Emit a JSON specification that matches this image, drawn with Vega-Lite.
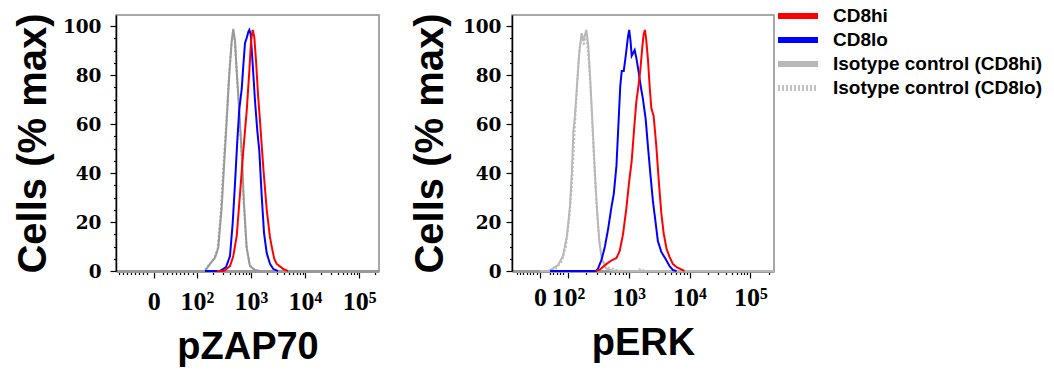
{
"$schema": "https://vega.github.io/schema/vega-lite/v6.json",
"background": "white",
"padding": {"left": 12, "top": 5, "right": 0, "bottom": 0},
"datasets": {
"zap": [
{"series":"Isotype control (CD8lo)","x":1.2,"y":0},{"series":"Isotype control (CD8lo)","x":2.13,"y":0},{"series":"Isotype control (CD8lo)","x":2.22,"y":2.5},{"series":"Isotype control (CD8lo)","x":2.32,"y":5},{"series":"Isotype control (CD8lo)","x":2.38,"y":9},{"series":"Isotype control (CD8lo)","x":2.44,"y":24},{"series":"Isotype control (CD8lo)","x":2.49,"y":43},{"series":"Isotype control (CD8lo)","x":2.54,"y":60},{"series":"Isotype control (CD8lo)","x":2.59,"y":79},{"series":"Isotype control (CD8lo)","x":2.635,"y":92},{"series":"Isotype control (CD8lo)","x":2.665,"y":97.5},{"series":"Isotype control (CD8lo)","x":2.7,"y":94},{"series":"Isotype control (CD8lo)","x":2.73,"y":83},{"series":"Isotype control (CD8lo)","x":2.78,"y":66},{"series":"Isotype control (CD8lo)","x":2.825,"y":48},{"series":"Isotype control (CD8lo)","x":2.865,"y":28},{"series":"Isotype control (CD8lo)","x":2.915,"y":10},{"series":"Isotype control (CD8lo)","x":2.975,"y":2.5},{"series":"Isotype control (CD8lo)","x":3.06,"y":0.5},{"series":"Isotype control (CD8lo)","x":3.16,"y":0},{"series":"Isotype control (CD8lo)","x":5.37,"y":0},
{"series":"Isotype control (CD8hi)","x":1.2,"y":0},{"series":"Isotype control (CD8hi)","x":2.148,"y":0},{"series":"Isotype control (CD8hi)","x":2.241,"y":2.9},{"series":"Isotype control (CD8hi)","x":2.333,"y":5.4},{"series":"Isotype control (CD8hi)","x":2.394,"y":9.5},{"series":"Isotype control (CD8hi)","x":2.457,"y":25.8},{"series":"Isotype control (CD8hi)","x":2.506,"y":44.9},{"series":"Isotype control (CD8hi)","x":2.55,"y":61.2},{"series":"Isotype control (CD8hi)","x":2.598,"y":80.4},{"series":"Isotype control (CD8hi)","x":2.643,"y":93.9},{"series":"Isotype control (CD8hi)","x":2.672,"y":98.8},{"series":"Isotype control (CD8hi)","x":2.704,"y":93.9},{"series":"Isotype control (CD8hi)","x":2.735,"y":81.6},{"series":"Isotype control (CD8hi)","x":2.783,"y":65.3},{"series":"Isotype control (CD8hi)","x":2.828,"y":47.8},{"series":"Isotype control (CD8hi)","x":2.87,"y":27.3},{"series":"Isotype control (CD8hi)","x":2.92,"y":9.5},{"series":"Isotype control (CD8hi)","x":2.98,"y":2},{"series":"Isotype control (CD8hi)","x":3.07,"y":0.4},{"series":"Isotype control (CD8hi)","x":3.17,"y":0},{"series":"Isotype control (CD8hi)","x":5.37,"y":0},
{"series":"CD8lo","x":2.148,"y":0},{"series":"CD8lo","x":2.426,"y":0},{"series":"CD8lo","x":2.537,"y":1.6},{"series":"CD8lo","x":2.611,"y":6.1},{"series":"CD8lo","x":2.661,"y":19.6},{"series":"CD8lo","x":2.704,"y":35.9},{"series":"CD8lo","x":2.746,"y":53.1},{"series":"CD8lo","x":2.783,"y":66.1},{"series":"CD8lo","x":2.828,"y":74.3},{"series":"CD8lo","x":2.857,"y":83.7},{"series":"CD8lo","x":2.889,"y":93.1},{"series":"CD8lo","x":2.92,"y":95.1},{"series":"CD8lo","x":2.95,"y":97.6},{"series":"CD8lo","x":2.969,"y":98.4},{"series":"CD8lo","x":2.994,"y":96.7},{"series":"CD8lo","x":3.031,"y":84.5},{"series":"CD8lo","x":3.074,"y":69.4},{"series":"CD8lo","x":3.117,"y":57.1},{"series":"CD8lo","x":3.154,"y":49},{"series":"CD8lo","x":3.198,"y":30.6},{"series":"CD8lo","x":3.241,"y":15.5},{"series":"CD8lo","x":3.291,"y":7.3},{"series":"CD8lo","x":3.352,"y":2.9},{"series":"CD8lo","x":3.413,"y":0.8},{"series":"CD8lo","x":3.5,"y":0},
{"series":"CD8hi","x":2.37,"y":0},{"series":"CD8hi","x":2.5,"y":0},{"series":"CD8hi","x":2.611,"y":2},{"series":"CD8hi","x":2.672,"y":6.1},{"series":"CD8hi","x":2.735,"y":14.3},{"series":"CD8hi","x":2.796,"y":31.4},{"series":"CD8hi","x":2.857,"y":49},{"series":"CD8hi","x":2.92,"y":65.3},{"series":"CD8hi","x":2.969,"y":81.6},{"series":"CD8hi","x":3.0,"y":93.9},{"series":"CD8hi","x":3.031,"y":98.4},{"series":"CD8hi","x":3.061,"y":95.5},{"series":"CD8hi","x":3.093,"y":85.7},{"series":"CD8hi","x":3.13,"y":72},{"series":"CD8hi","x":3.167,"y":61},{"series":"CD8hi","x":3.228,"y":42},{"series":"CD8hi","x":3.291,"y":25},{"series":"CD8hi","x":3.35,"y":14},{"series":"CD8hi","x":3.383,"y":10},{"series":"CD8hi","x":3.43,"y":5},{"series":"CD8hi","x":3.476,"y":2.9},{"series":"CD8hi","x":3.598,"y":0.8},{"series":"CD8hi","x":3.685,"y":0}
],
"erk": [
{"series":"Isotype control (CD8lo)","x":1.54,"y":0},{"series":"Isotype control (CD8lo)","x":1.705,"y":0},{"series":"Isotype control (CD8lo)","x":1.803,"y":1},{"series":"Isotype control (CD8lo)","x":1.902,"y":4},{"series":"Isotype control (CD8lo)","x":1.967,"y":10},{"series":"Isotype control (CD8lo)","x":2.025,"y":22},{"series":"Isotype control (CD8lo)","x":2.066,"y":35},{"series":"Isotype control (CD8lo)","x":2.107,"y":55},{"series":"Isotype control (CD8lo)","x":2.139,"y":70},{"series":"Isotype control (CD8lo)","x":2.172,"y":85},{"series":"Isotype control (CD8lo)","x":2.205,"y":93},{"series":"Isotype control (CD8lo)","x":2.238,"y":96},{"series":"Isotype control (CD8lo)","x":2.262,"y":92},{"series":"Isotype control (CD8lo)","x":2.287,"y":97},{"series":"Isotype control (CD8lo)","x":2.311,"y":94},{"series":"Isotype control (CD8lo)","x":2.344,"y":85},{"series":"Isotype control (CD8lo)","x":2.377,"y":72},{"series":"Isotype control (CD8lo)","x":2.41,"y":55},{"series":"Isotype control (CD8lo)","x":2.443,"y":38},{"series":"Isotype control (CD8lo)","x":2.484,"y":22},{"series":"Isotype control (CD8lo)","x":2.525,"y":10},{"series":"Isotype control (CD8lo)","x":2.574,"y":4},{"series":"Isotype control (CD8lo)","x":2.639,"y":1.5},{"series":"Isotype control (CD8lo)","x":2.721,"y":1},{"series":"Isotype control (CD8lo)","x":2.82,"y":0.3},{"series":"Isotype control (CD8lo)","x":2.934,"y":0},{"series":"Isotype control (CD8lo)","x":3.148,"y":0},{"series":"Isotype control (CD8lo)","x":3.197,"y":1},{"series":"Isotype control (CD8lo)","x":3.262,"y":0},{"series":"Isotype control (CD8lo)","x":5.39,"y":0},
{"series":"Isotype control (CD8hi)","x":1.54,"y":0},{"series":"Isotype control (CD8hi)","x":1.672,"y":0},{"series":"Isotype control (CD8hi)","x":1.738,"y":0.8},{"series":"Isotype control (CD8hi)","x":1.836,"y":2.4},{"series":"Isotype control (CD8hi)","x":1.918,"y":6.1},{"series":"Isotype control (CD8hi)","x":1.984,"y":14.3},{"series":"Isotype control (CD8hi)","x":2.033,"y":26.5},{"series":"Isotype control (CD8hi)","x":2.066,"y":40.8},{"series":"Isotype control (CD8hi)","x":2.09,"y":57.1},{"series":"Isotype control (CD8hi)","x":2.115,"y":63.3},{"series":"Isotype control (CD8hi)","x":2.148,"y":75.5},{"series":"Isotype control (CD8hi)","x":2.189,"y":89.8},{"series":"Isotype control (CD8hi)","x":2.225,"y":97.1},{"series":"Isotype control (CD8hi)","x":2.254,"y":93.9},{"series":"Isotype control (CD8hi)","x":2.279,"y":96.3},{"series":"Isotype control (CD8hi)","x":2.303,"y":98.4},{"series":"Isotype control (CD8hi)","x":2.336,"y":91.8},{"series":"Isotype control (CD8hi)","x":2.369,"y":77.6},{"series":"Isotype control (CD8hi)","x":2.402,"y":61.2},{"series":"Isotype control (CD8hi)","x":2.434,"y":44.9},{"series":"Isotype control (CD8hi)","x":2.475,"y":26.5},{"series":"Isotype control (CD8hi)","x":2.516,"y":12.2},{"series":"Isotype control (CD8hi)","x":2.557,"y":4.9},{"series":"Isotype control (CD8hi)","x":2.623,"y":1.2},{"series":"Isotype control (CD8hi)","x":2.721,"y":0.2},{"series":"Isotype control (CD8hi)","x":2.82,"y":0},{"series":"Isotype control (CD8hi)","x":5.39,"y":0},
{"series":"CD8lo","x":1.705,"y":0},{"series":"CD8lo","x":2.459,"y":0},{"series":"CD8lo","x":2.492,"y":0.8},{"series":"CD8lo","x":2.552,"y":4.5},{"series":"CD8lo","x":2.607,"y":9.8},{"series":"CD8lo","x":2.661,"y":17.1},{"series":"CD8lo","x":2.716,"y":26.1},{"series":"CD8lo","x":2.754,"y":31.4},{"series":"CD8lo","x":2.798,"y":42.9},{"series":"CD8lo","x":2.828,"y":58.4},{"series":"CD8lo","x":2.861,"y":75.5},{"series":"CD8lo","x":2.885,"y":81.6},{"series":"CD8lo","x":2.918,"y":81.6},{"series":"CD8lo","x":2.951,"y":87.8},{"series":"CD8lo","x":2.989,"y":95.9},{"series":"CD8lo","x":3.008,"y":98.4},{"series":"CD8lo","x":3.03,"y":93.9},{"series":"CD8lo","x":3.049,"y":87.8},{"series":"CD8lo","x":3.074,"y":89},{"series":"CD8lo","x":3.098,"y":90.2},{"series":"CD8lo","x":3.126,"y":86.9},{"series":"CD8lo","x":3.156,"y":82.4},{"series":"CD8lo","x":3.197,"y":75.5},{"series":"CD8lo","x":3.234,"y":70.2},{"series":"CD8lo","x":3.279,"y":62},{"series":"CD8lo","x":3.316,"y":51},{"series":"CD8lo","x":3.356,"y":39.6},{"series":"CD8lo","x":3.398,"y":28.6},{"series":"CD8lo","x":3.443,"y":19.6},{"series":"CD8lo","x":3.48,"y":12.2},{"series":"CD8lo","x":3.536,"y":7.8},{"series":"CD8lo","x":3.607,"y":4.9},{"series":"CD8lo","x":3.672,"y":2},{"series":"CD8lo","x":3.726,"y":0.4},{"series":"CD8lo","x":3.787,"y":0},
{"series":"CD8hi","x":2.459,"y":0},{"series":"CD8hi","x":2.525,"y":0.6},{"series":"CD8hi","x":2.634,"y":2.9},{"series":"CD8hi","x":2.716,"y":4.3},{"series":"CD8hi","x":2.798,"y":5.3},{"series":"CD8hi","x":2.852,"y":8.2},{"series":"CD8hi","x":2.907,"y":15.1},{"series":"CD8hi","x":2.962,"y":25.7},{"series":"CD8hi","x":3.008,"y":36.7},{"series":"CD8hi","x":3.049,"y":44.9},{"series":"CD8hi","x":3.09,"y":58.4},{"series":"CD8hi","x":3.126,"y":69.4},{"series":"CD8hi","x":3.156,"y":74.7},{"series":"CD8hi","x":3.189,"y":81.6},{"series":"CD8hi","x":3.225,"y":91.8},{"series":"CD8hi","x":3.246,"y":96.7},{"series":"CD8hi","x":3.267,"y":98.4},{"series":"CD8hi","x":3.287,"y":94.7},{"series":"CD8hi","x":3.316,"y":86.5},{"series":"CD8hi","x":3.344,"y":75.5},{"series":"CD8hi","x":3.372,"y":66.5},{"series":"CD8hi","x":3.41,"y":63.3},{"series":"CD8hi","x":3.454,"y":51},{"series":"CD8hi","x":3.497,"y":35.9},{"series":"CD8hi","x":3.536,"y":23.7},{"series":"CD8hi","x":3.574,"y":15.5},{"series":"CD8hi","x":3.623,"y":9},{"series":"CD8hi","x":3.672,"y":5.7},{"series":"CD8hi","x":3.726,"y":2.9},{"series":"CD8hi","x":3.787,"y":1.6},{"series":"CD8hi","x":3.852,"y":0.8},{"series":"CD8hi","x":3.918,"y":0}
]
},
"spacing": 25,
"resolve": {"scale": {"x": "independent", "color": "independent", "strokeDash": "independent"}, "legend": {"color": "independent", "strokeDash": "independent"}},
"hconcat": [
{
"width": 263, "height": 256,
"data": {"name": "zap"},
"mark": {"type": "line", "strokeWidth": 2},
"encoding": {
"x": {"field": "x", "type": "quantitative", "scale": {"domain": [0.5, 5.37], "nice": false, "zero": false},
 "axis": {"title": "pZAP70",
  "values": [0.556,0.63,0.704,0.778,0.852,0.926,1.0,1.074,1.2,1.376,1.45,1.531,1.605,1.685,1.759,1.839,1.92,2,2.301,2.477,2.602,2.699,2.778,2.845,2.903,2.954,3,3.301,3.477,3.602,3.699,3.778,3.845,3.903,3.954,4,4.301,4.477,4.602,4.699,4.778,4.845,4.903,4.954,5,5.301],
  "labelExpr": "datum.value == 1.2 ? '0' : datum.value == 2 ? '10²' : datum.value == 3 ? '10³' : datum.value == 4 ? '10⁴' : datum.value == 5 ? '10⁵' : ''",
  "tickSize": {"condition": {"test": "indexof([1.2,2,3,4,5], datum.value) >= 0", "value": 7}, "value": 3.5},
  "labelPadding": 10}},
"y": {"field": "y", "type": "quantitative", "scale": {"domain": [0, 104.5], "nice": false},
 "axis": {"title": "Cells (% max)", "values": [0,5,10,15,20,25,30,35,40,45,50,55,60,65,70,75,80,85,90,95,100],
  "labelExpr": "datum.value % 20 == 0 ? datum.label : ''",
  "tickSize": {"condition": {"test": "datum.value % 20 == 0", "value": 6}, "value": 2.5},
  "labelPadding": 9, "titlePadding": 9}},
"color": {"field": "series", "type": "nominal", "sort": null,
 "scale": {"domain": ["CD8hi", "CD8lo", "Isotype control (CD8hi)", "Isotype control (CD8lo)"], "range": ["#ff0000", "#0000ff", "#999999", "#a9a9a9"]}, "legend": null},
"strokeDash": {"field": "series", "type": "nominal",
 "scale": {"domain": ["CD8hi", "CD8lo", "Isotype control (CD8hi)", "Isotype control (CD8lo)"], "range": [[1,0],[1,0],[1,0],[2,2]]}, "legend": null}
}
},
{
"width": 262, "height": 256,
"data": {"name": "erk"},
"mark": {"type": "line", "strokeWidth": 2},
"encoding": {
"x": {"field": "x", "type": "quantitative", "scale": {"domain": [1.08, 5.39], "nice": false, "zero": false},
 "axis": {"title": "pERK",
  "values": [1.159,1.213,1.267,1.323,1.377,1.431,1.487,1.54,1.705,1.76,1.814,1.869,1.923,2,2.301,2.477,2.602,2.699,2.778,2.845,2.903,2.954,3,3.301,3.477,3.602,3.699,3.778,3.845,3.903,3.954,4,4.301,4.477,4.602,4.699,4.778,4.845,4.903,4.954,5,5.301],
  "labelExpr": "datum.value == 1.54 ? '0' : datum.value == 2 ? '10²' : datum.value == 3 ? '10³' : datum.value == 4 ? '10⁴' : datum.value == 5 ? '10⁵' : ''",
  "tickSize": {"condition": {"test": "indexof([1.54,2,3,4,5], datum.value) >= 0", "value": 7}, "value": 3.5},
  "labelPadding": 6}},
"y": {"field": "y", "type": "quantitative", "scale": {"domain": [0, 104.5], "nice": false},
 "axis": {"title": "Cells (% max)", "values": [0,5,10,15,20,25,30,35,40,45,50,55,60,65,70,75,80,85,90,95,100],
  "labelExpr": "datum.value % 20 == 0 ? datum.label : ''",
  "tickSize": {"condition": {"test": "datum.value % 20 == 0", "value": 6}, "value": 2.5},
  "labelPadding": 5, "titlePadding": 12}},
"color": {"field": "series", "type": "nominal", "sort": null,
 "scale": {"domain": ["CD8hi", "CD8lo", "Isotype control (CD8hi)", "Isotype control (CD8lo)"], "range": ["#ff0000", "#0000ff", "#b8b8b8", "#c2c2c2"]},
 "legend": {"title": null, "orient": "none", "legendX": 276, "legendY": -9, "direction": "vertical",
  "symbolType": "M-2.86,0L2.86,0", "symbolSize": 196, "symbolStrokeWidth": 6, "symbolOffset": 0,
  "labelFont": "Liberation Sans", "labelFontSize": 19, "labelFontWeight": "bold", "labelColor": "#000", "labelOffset": 25, "labelLimit": 400, "rowPadding": 0, "padding": 0}},
"strokeDash": {"field": "series", "type": "nominal",
 "scale": {"domain": ["CD8hi", "CD8lo", "Isotype control (CD8hi)", "Isotype control (CD8lo)"], "range": [[1,0],[1,0],[1,0],[2,2]]}, "legend": null}
}
}
],
"config": {
"view": {"stroke": "#8c8c8c", "strokeWidth": 1.5},
"axis": {"grid": false, "domainColor": "#000", "domainWidth": 1.5, "tickColor": "#000", "tickWidth": 1.2,
 "labelColor": "#000", "titleColor": "#000", "labelOverlap": false, "labelBound": false, "labelFlush": false,
 "titleFont": "Liberation Sans", "titleFontWeight": "bold"},
"axisX": {"domainColor": "#9a9a9a", "domainWidth": 3, "labelFont": "Liberation Serif", "labelFontWeight": "bold", "labelFontSize": 26, "titleFontSize": 38, "titlePadding": 14},
"axisY": {"labelFont": "DejaVu Serif", "labelFontWeight": "bold", "labelFontSize": 18.5, "titleFontSize": 40}
}
}
